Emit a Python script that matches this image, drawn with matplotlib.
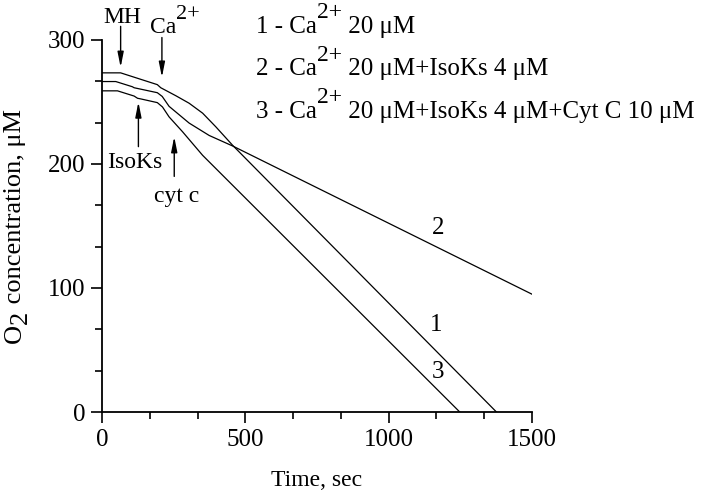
import matplotlib
matplotlib.use("Agg")
import matplotlib.pyplot as plt
from matplotlib.ticker import MultipleLocator
from matplotlib.transforms import IdentityTransform

plt.rcParams['font.family'] = ['Liberation Serif', 'DejaVu Serif']

# ---- data ----
t1 = [0, 65, 193, 205, 258, 304, 351, 397, 456, 1376]
v1 = [273.5, 273.5, 264, 261.5, 255, 249, 241, 230, 215, 0]

t2 = [0, 48, 106, 112, 193, 210, 234, 304, 374, 456, 1500]
v2 = [266.5, 266.5, 262.3, 261.5, 257.5, 254.5, 246.5, 233, 223, 214.5, 95]

t3 = [0, 54, 112, 124, 135, 193, 211, 234, 281, 351, 1248]
v3 = [259, 259, 254.8, 253, 252.5, 249.5, 246, 238, 226, 207, 0]

curve_labels = ["1", "2", "3"]
# rich-text segments: (text, kind) with kind 'n' normal, 'sup' superscript, 'sub' subscript
legend_lines = [
    [("1 - Ca", 'n'), ("2+", 'sup'), (" 20 μM", 'n')],
    [("2 - Ca", 'n'), ("2+", 'sup'), (" 20 μM+IsoKs 4 μM", 'n')],
    [("3 - Ca", 'n'), ("2+", 'sup'), (" 20 μM+IsoKs 4 μM+Cyt C 10 μM", 'n')],
]
ca_label = [("Ca", 'n'), ("2+", 'sup')]
ylabel_parts = [("O", 'n'), ("2", 'sub'), (" concentration, μM", 'n')]
xticks = [0, 500, 1000, 1500]
yticks = [0, 100, 200, 300]

W, H = 704, 494
fig = plt.figure(figsize=(W/100, H/100), dpi=100)
ax = fig.add_axes([102/W, 1 - 412/H, (532-102)/W, (412-40)/H])
renderer = fig.canvas.get_renderer()


def text_width(s, size):
    a = fig.text(0, 0, "|" + s + "|", fontsize=size)
    b = fig.text(0, 0, "||", fontsize=size)
    w = a.get_window_extent(renderer).width - b.get_window_extent(renderer).width
    a.remove(); b.remove()
    return w


def rich(x0, y0, parts, size, supsize, rot=False, center=False):
    """x0,y0 in display pixels (origin bottom-left); baseline start."""
    em = size * 100 / 72.0
    widths = [text_width(s, supsize if k != 'n' else size) for s, k in parts]
    total = sum(widths)
    pos = -total / 2 if center else 0.0
    for (s, k), w in zip(parts, widths):
        off = 0.0
        fs = size
        if k == 'sup':
            off = 0.58 * em; fs = supsize
        elif k == 'sub':
            off = -0.22 * em; fs = supsize
        if rot:
            fig.text(x0 - off, y0 + pos, s, fontsize=fs, rotation=90,
                     rotation_mode='anchor', ha='left', va='baseline',
                     transform=IdentityTransform())
        else:
            fig.text(x0 + pos, y0 + off, s, fontsize=fs, ha='left', va='baseline',
                     transform=IdentityTransform())
        pos += w


for t, v in [(t1, v1), (t2, v2), (t3, v3)]:
    ax.plot(t, v, color='black', lw=0.9)

ax.set_xlim(0, 1500)
ax.set_ylim(0, 300)
ax.set_xticks(xticks)
ax.set_yticks(yticks)
ax.xaxis.set_minor_locator(MultipleLocator(500/3))
ax.yaxis.set_minor_locator(MultipleLocator(100/3))
for s in ['top', 'right']:
    ax.spines[s].set_visible(False)
for s in ['left', 'bottom']:
    ax.spines[s].set_linewidth(1.3)
ax.tick_params(which='major', direction='out', length=8, width=1.2, labelsize=18, pad=4)
ax.tick_params(which='minor', direction='out', length=5, width=1.2)

ax.set_xlabel("Time, sec", fontsize=17, labelpad=14)

# curve labels
ax.text(1171, 148, curve_labels[1], fontsize=18, ha='center', va='center')
ax.text(1164, 70, curve_labels[0], fontsize=18, ha='center', va='center')
ax.text(1171, 32, curve_labels[2], fontsize=18, ha='center', va='center')

# arrows
ap = dict(arrowstyle='-|>,head_width=0.18,head_length=0.9', color='black', lw=1.0,
          shrinkA=0, shrinkB=0)
ax.annotate("", xy=(65, 278), xytext=(65, 311), arrowprops=ap, annotation_clip=False)
ax.annotate("", xy=(209, 270), xytext=(209, 302), arrowprops=ap, annotation_clip=False)
ax.annotate("", xy=(127, 250), xytext=(127, 214), arrowprops=ap, annotation_clip=False)
ax.annotate("", xy=(252, 222), xytext=(252, 190), arrowprops=ap, annotation_clip=False)

ax.text(70, 313.5, "MH", fontsize=17, ha='center', va='baseline', clip_on=False)
ax.text(115, 201, "IsoKs", fontsize=17, ha='center', va='center')
ax.text(262, 174, "cyt c", fontsize=17, ha='center', va='center')

# Ca2+ label (pixel coords from top-left converted to bottom-left)
rich(150, H - 33, ca_label, 17, 16)

# legend-style text lines
for parts, yb in zip(legend_lines, [32.5, 75, 117.5]):
    rich(256, H - yb, parts, 18, 17)

# y label
rich(21, H - 226, ylabel_parts, 19, 19, rot=True, center=True)

fig.savefig("out.png", dpi=100)
